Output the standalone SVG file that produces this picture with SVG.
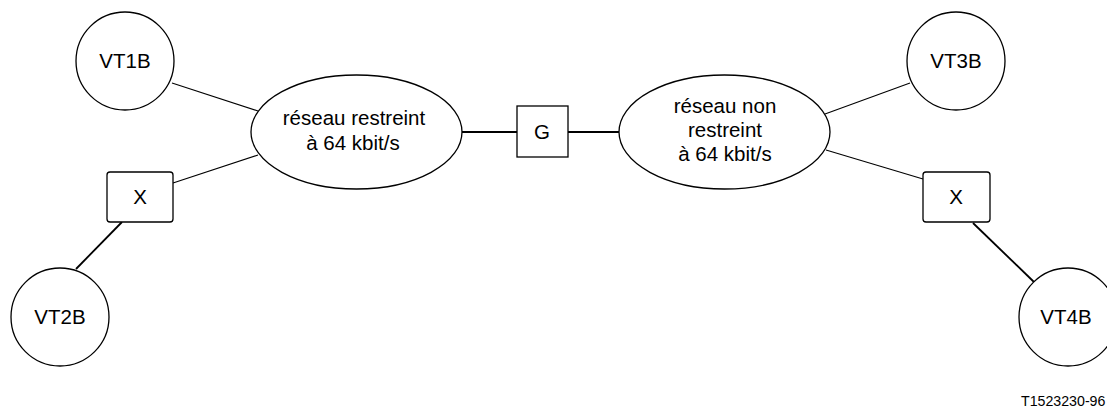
<svg xmlns="http://www.w3.org/2000/svg" width="1107" height="410" viewBox="0 0 1107 410">
<style>
.shape{fill:#fff;stroke:#000;stroke-width:1.3}
.t{font-family:"Liberation Sans",Arial,sans-serif;font-size:20.5px;fill:#000;text-anchor:middle}
.thin{stroke:#000;stroke-width:1.1;fill:none}
.thick{stroke:#000;stroke-width:1.8;fill:none}
</style>
<rect width="1107" height="410" fill="#fff"/>
<g id="connectors">
<line class="thin" x1="172" y1="83" x2="258" y2="111"/>
<line class="thin" x1="258" y1="155" x2="173" y2="183"/>
<line class="thick" x1="122" y1="222" x2="76" y2="269"/>
<line class="thick" x1="462" y1="132" x2="517" y2="132"/>
<line class="thick" x1="568" y1="132" x2="619" y2="132"/>
<line class="thin" x1="825" y1="114" x2="910" y2="83"/>
<line class="thin" x1="826" y1="150" x2="923" y2="179"/>
<line class="thick" x1="973" y1="223" x2="1034" y2="282"/>
</g>
<g id="VT1B"><circle class="shape" cx="125" cy="61" r="49"/><text class="t" x="125" y="68">VT1B</text></g>
<g id="VT2B"><circle class="shape" cx="60" cy="317" r="49"/><text class="t" x="60" y="324">VT2B</text></g>
<g id="VT3B"><circle class="shape" cx="956" cy="61" r="49"/><text class="t" x="956" y="68">VT3B</text></g>
<g id="VT4B"><circle class="shape" cx="1068" cy="317" r="49"/><text class="t" x="1066" y="324">VT4B</text></g>
<g id="reseau-restreint"><ellipse class="shape" cx="356.5" cy="132" rx="105.5" ry="57"/><text class="t" x="354" y="125">réseau restreint</text><text class="t" x="353" y="150">à 64 kbit/s</text></g>
<g id="reseau-non-restreint"><ellipse class="shape" cx="724.5" cy="132" rx="105.5" ry="57"/><text class="t" x="725" y="113">réseau non</text><text class="t" x="725" y="137">restreint</text><text class="t" x="725" y="161">à 64 kbit/s</text></g>
<g id="G"><rect class="shape" x="517" y="106" width="51" height="51"/><text class="t" x="542" y="139">G</text></g>
<g id="X1"><rect class="shape" x="107" y="172" width="66" height="50" rx="3"/><text class="t" x="140" y="204">X</text></g>
<g id="X2"><rect class="shape" x="923" y="172" width="67" height="50" rx="3"/><text class="t" x="956" y="204">X</text></g>
<text x="1021" y="406" font-family="'Liberation Sans',Arial,sans-serif" font-size="14.2" fill="#000">T1523230-96</text>
</svg>
